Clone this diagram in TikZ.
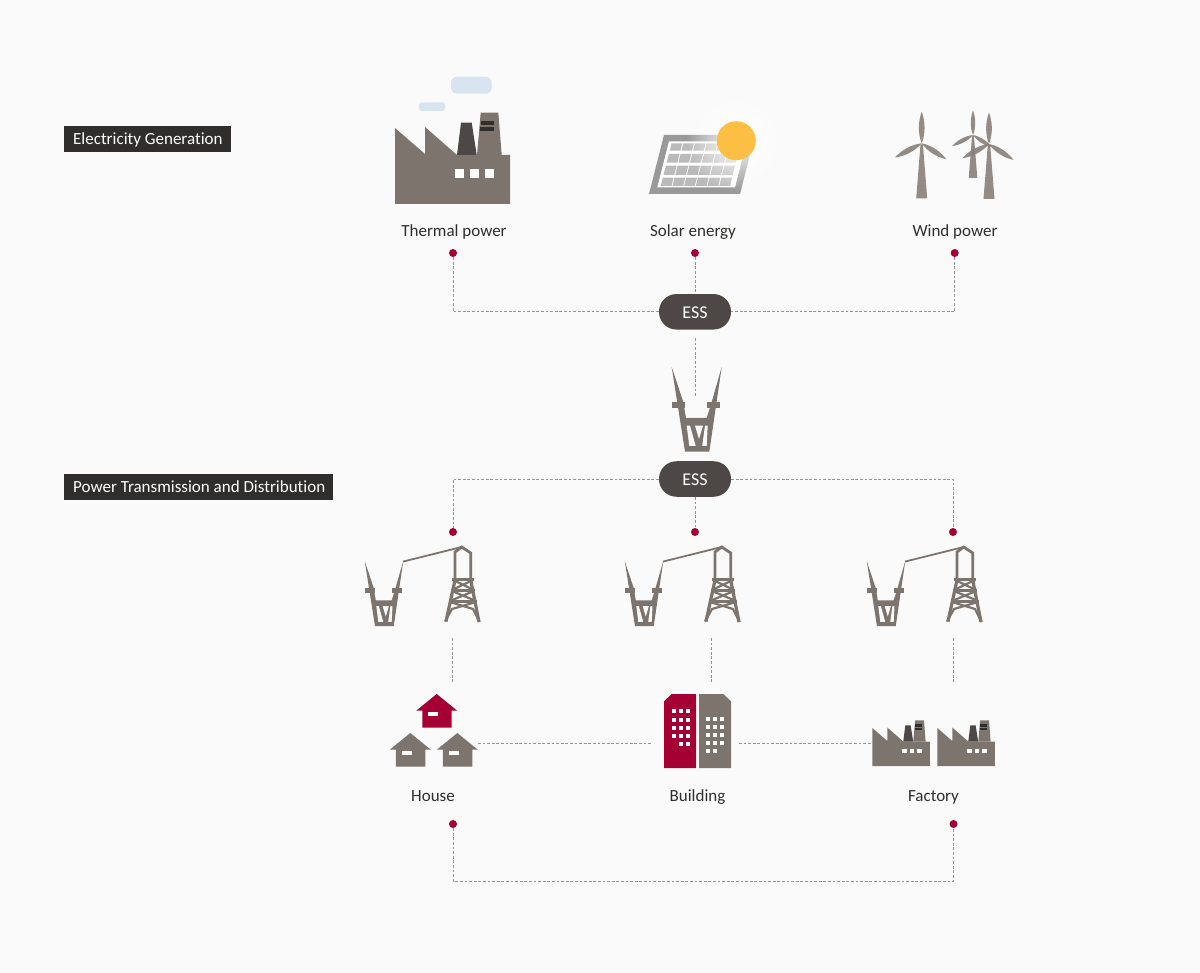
\documentclass[tikz,border=0pt]{standalone}
\usepackage{fontspec}
\setmainfont{Carlito}[Ligatures=NoCommon]
\usetikzlibrary{fadings}
\definecolor{paper}{HTML}{FAFAFA}
\definecolor{stone}{HTML}{7D746D}
\definecolor{blade}{HTML}{8B827B}
\definecolor{soot}{HTML}{4D4846}
\definecolor{ink}{HTML}{2F2E2C}
\definecolor{lgred}{HTML}{A50034}
\definecolor{cloud}{HTML}{D8E5F1}
\definecolor{sun}{HTML}{FDBE44}
\definecolor{hairline}{HTML}{969696}
\tikzfading[name=sunglow, inner color=transparent!0, outer color=transparent!100]
\tikzstyle{badge} = [rectangle, fill=ink, text=white, font=\fontsize{17}{20}\selectfont,
    inner sep=0pt, minimum height=26pt, anchor=west, text height=11.5pt, text depth=3.5pt]
\tikzstyle{pill} = [rectangle, fill=soot, text=white, rounded corners=17.5pt,
    font=\fontsize{18}{20}\selectfont, minimum width=72pt, minimum height=35.5pt, inner sep=0pt,
    text height=13.5pt, text depth=0pt]
\tikzstyle{caption} = [text=ink, font=\fontsize{17}{20}\selectfont, inner sep=0pt,
    text height=11.5pt, text depth=3.5pt]
\tikzstyle{dot} = [circle, fill=lgred, inner sep=0pt, minimum size=8pt]
\tikzstyle{link} = [draw=hairline, line width=0.8pt, dash pattern=on 2.8pt off 1.8pt]
\tikzset{
  factory/.pic={
    \fill [stone] (0,0) -- (0,-76) -- (30,-50) -- (30,-77) -- (62,-49) -- (115,-49) -- (115,0) -- cycle;
    \fill [stone] (82,-49) -- (85.7,-91.3) -- (103.3,-91.3) -- (106.7,-49) -- cycle;
    \fill [soot] (62,-49) -- (66,-81.3) -- (76.7,-81.3) -- (81.7,-49) -- cycle;
    \fill [ink] (85.7,-83.3) rectangle (99,-79);
    \fill [ink] (85.3,-77) rectangle (99,-73);
    \foreach \wx in {60,75,89.7}
      \fill [white] (\wx,-35) rectangle ++(9,9);
  },
  turbine/.pic={
    \fill [blade, fill opacity=.92] (-1.2,1) -- (1.2,1) -- (5.5,55) -- (-5.5,55) -- cycle;
    \foreach \ang/\len in {0/1,118/.96,237/.93}
      \fill [blade, fill opacity=.92, rotate=\ang, scale=\len] (0,0) .. controls (-4,-10) and (-3.6,-22) .. (0,-31.5)
        .. controls (3.6,-22) and (4,-10) .. (0,0);
  },
  pylon/.pic={
    \fill [stone] (-25,0) -- (-13.4,35) -- (-10.7,51) -- (10,51) -- (15,35) -- (25,0)
      -- (12.6,84.7) -- (-11.7,84.7) -- cycle;
    \fill [stone] (-24.4,35.3) rectangle (-11.7,41.3);
    \fill [stone] (10.6,35.3) rectangle (23.3,41.3);
    \fill [paper] (-10,58.7) -- (-6.7,58.7) -- (-1,79) -- (-7.4,79) -- cycle;
    \fill [paper] (-1.7,58.7) -- (6.3,58.7) -- (2.3,72) -- cycle;
    \fill [paper] (8.3,58.7) -- (11,58.7) -- (10,79) -- (5.5,79) -- cycle;
  },
  house/.pic={
    \fill (0,0) -- (20.5,16.7) -- (15,16.7) -- (15,33.7) -- (-14.4,33.7) -- (-14.4,16.7) -- (-20.5,16.7) -- cycle;
    \fill [white] (-8.7,18) rectangle (1.3,21.7);
  }
}

\begin{document}
\begin{tikzpicture}[x=1pt, y=-1pt]
                \useasboundingbox (0,0) rectangle (1200,973);
                \fill [paper] (0,0) rectangle (1200,973);

                \fill [cloud, rounded corners=6pt] (451,76.7) rectangle (491.7,93.7);
                \fill [cloud, rounded corners=3pt] (419,102.3) rectangle (445.3,111);
                \pic at (395,204) {factory};

                \begin{scope}[shift={(649,194)}, xslant=.254]
                    \fill [black!40] (0,0) rectangle (91,-59);
                    \fill [white] (6.6,-6.7) rectangle (84.3,-52.5);
                    \foreach \i in {0,...,5}
                        \foreach \r/\rt in {-8/-16.3,-19/-28.3,-31.3/-40,-43.3/-50.7}
                            \fill [black!27] ({9.7+11.7*\i},\r) rectangle ({20.4+11.7*\i},\rt);
                \end{scope}
                \fill [white, path fading=sunglow] (736.3,140.7) circle (50);
                \fill [sun] (736.3,140.7) circle (19.5);

                \pic [scale=.78] at (973,135) {turbine};
                \pic at (921.7,143.3) {turbine};
                \pic at (989,144) {turbine};

                \pic at (696.7,367) {pylon};
                \foreach \dx in {0,260,502} {
                    \pic [scale=.77] at (384+\dx,561) {pylon};
                    \begin{scope}[xshift=\dx, stone, line width=2.8pt]
                        \draw [line width=1.8pt] (403,561.6) -- (461.7,547);
                        \draw (455,580) -- (455,552) -- (461.7,547) -- (470.7,553) -- (470.7,580);
                        \draw [line width=3.2pt] (455,580) -- (446,621.5);
                        \draw [line width=3.2pt] (470.7,580) -- (479,622);
                        \draw [line width=3.4pt] (452,579.5) -- (473.5,579.5);
                        \draw [line width=3pt] (451,590.5) -- (475,590.5);
                        \draw [line width=3pt] (449,601.5) -- (477,601.5);
                        \draw [line width=2.2pt] (453,580) -- (474,590) (473,580) -- (452,590);
                        \draw [line width=2.2pt] (452,591) -- (476,601) (474,591) -- (450,601);
                        \draw [line width=2.2pt] (450,602) -- (473,609) -- (479.5,622);
                        \draw [line width=2.2pt] (476,602) -- (452,609) -- (445,621.5);
                    \end{scope}
                }

                \pic [lgred] at (436.7,694) {house};
                \pic [stone] at (410.3,733) {house};
                \pic [stone] at (457.3,733) {house};

                \fill [lgred] (664,701.3) -- (671.7,694) -- (696,694) -- (696,768) -- (664,768) -- cycle;
                \fill [stone] (699,694) -- (723.3,694) -- (731,701.3) -- (731,768) -- (699,768) -- cycle;
                \foreach \wy in {709,718,726,733.7}
                    \foreach \wx in {672,679,686}
                        \fill [white] (\wx,\wy) rectangle ++(4,4);
                \foreach \wx in {679,686}
                    \fill [white] (\wx,741.7) rectangle ++(4,4);
                \foreach \wy in {717,724.7,733,740.7}
                    \foreach \wx in {706,713,720}
                        \fill [white] (\wx,\wy) rectangle ++(4,4);
                \foreach \wx in {706,713}
                    \fill [white] (\wx,748.7) rectangle ++(4,4);

                \pic [scale=.5] at (872.3,766) {factory};
                \pic [scale=.5] at (937.3,766) {factory};

                \node [badge, minimum width=167pt] at (64,139) (genbadge) {};
                \node [badge, anchor=west, fill=none] at (73,140.3) (gentext) {Electricity Generation};
                \node [badge, minimum width=269pt] at (64,487) (disbadge) {};
                \node [badge, anchor=west, fill=none] at (73,488.3) (distext) {Power Transmission and Distribution};

                \node [caption] at (454,232.5) (thermal) {Thermal power};
                \node [caption] at (693,232.5) (solar) {Solar energy};
                \node [caption] at (955,232.5) (wind) {Wind power};
                \node [caption] at (433,797.5) (house) {House};
                \node [caption] at (697.5,797.5) (building) {Building};
                \node [caption] at (933.5,797.5) (factorytext) {Factory};

                \node [pill] at (695,311.8) (essup) {ESS};
                \node [pill] at (695,479) (essdown) {ESS};

                \node [dot] at (453,253) (dotthermal) {};
                \node [dot] at (695,253) (dotsolar) {};
                \node [dot] at (954.7,253) (dotwind) {};
                \node [dot] at (453,532) (dotleft) {};
                \node [dot] at (695,532) (dotmid) {};
                \node [dot] at (953,532) (dotright) {};
                \node [dot] at (453,824) (dothouse) {};
                \node [dot] at (953.5,824) (dotfactory) {};

                \coordinate (feedtop) at (695.7,338);
                \coordinate (feedend) at (695.7,397);
                \coordinate (lefttop) at (452.5,638);
                \coordinate (leftend) at (452.5,682);
                \coordinate (midtop) at (711.5,638);
                \coordinate (midend) at (711.5,682);
                \coordinate (righttop) at (953.5,638);
                \coordinate (rightend) at (953.5,682);
                \coordinate (houseend) at (478,743.5);
                \coordinate (buildleft) at (652,743.5);
                \coordinate (buildright) at (739,743.5);
                \coordinate (factoryend) at (872,743.5);
                \coordinate (loopcorner) at (453,881);

                \path [link] (dotthermal) |- (essup);
                \path [link] (dotsolar) -- (essup);
                \path [link] (dotwind) |- (essup);
                \path [link] (feedtop) -- (feedend);
                \path [link] (essdown) -| (dotleft);
                \path [link] (essdown) -- (dotmid);
                \path [link] (essdown) -| (dotright);
                \path [link] (lefttop) -- (leftend);
                \path [link] (midtop) -- (midend);
                \path [link] (righttop) -- (rightend);
                \path [link] (houseend) -- (buildleft);
                \path [link] (buildright) -- (factoryend);
                \path [link] (dothouse) -- (loopcorner) -| (dotfactory);
            \end{tikzpicture}
\end{document}
